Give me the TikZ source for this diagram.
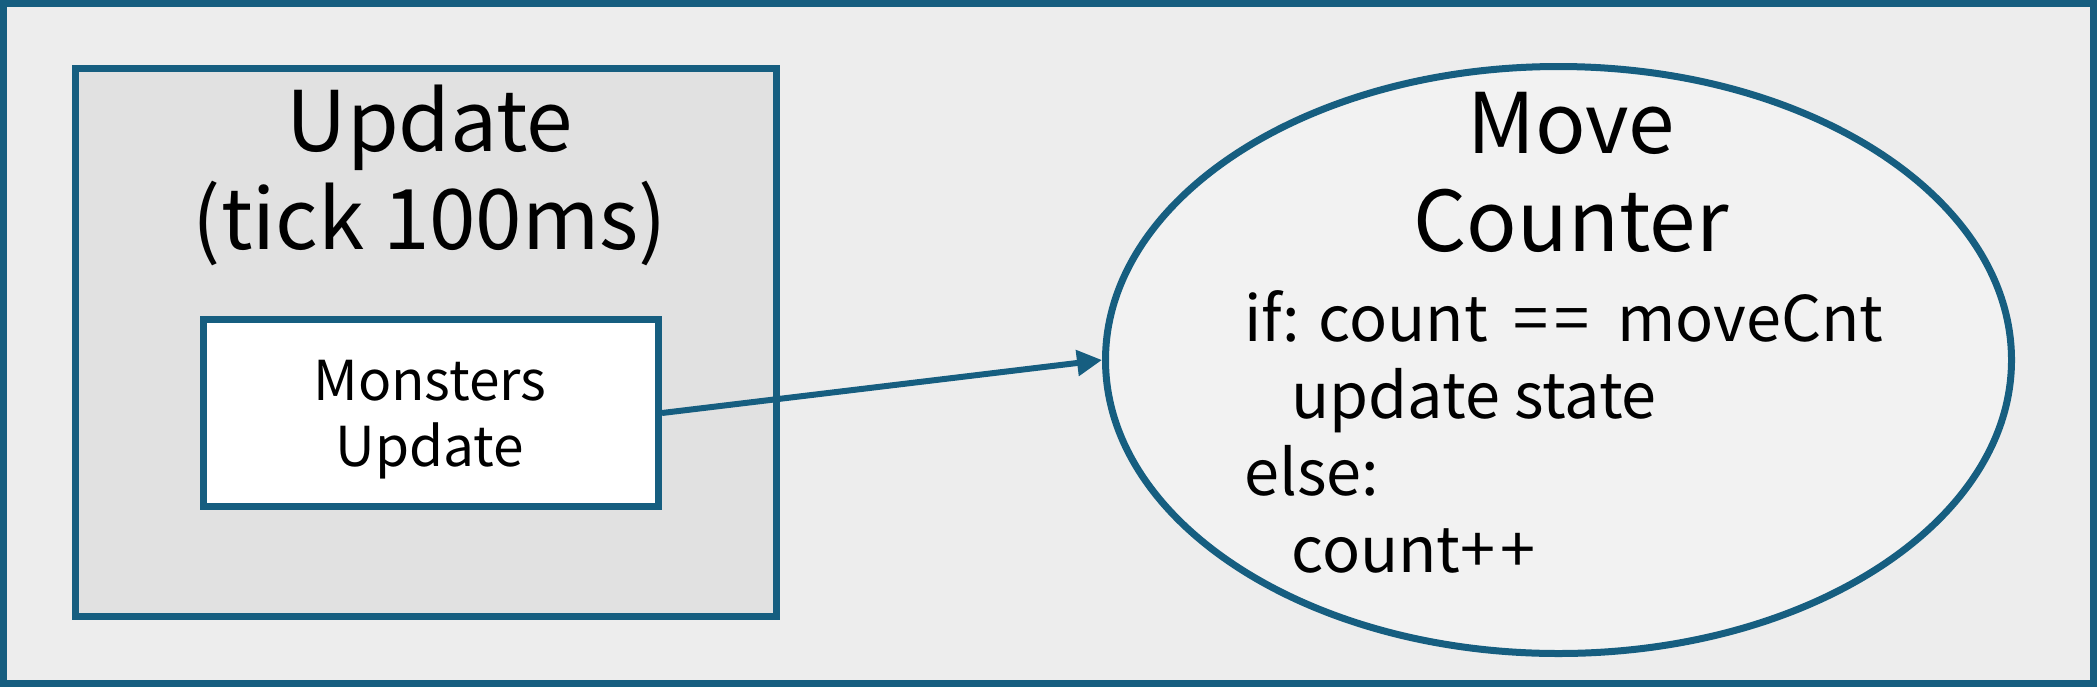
\documentclass[tikz,border=0pt]{standalone}
\usepackage{fontspec}
\setmainfont{Noto Sans CJK KR}
\usetikzlibrary{shapes.geometric,arrows.meta}
\definecolor{lineblue}{RGB}{22,94,128}
\definecolor{outerfill}{RGB}{237,237,237}
\definecolor{updfill}{RGB}{225,225,225}
\definecolor{ovalfill}{RGB}{242,242,242}
\newcommand\eqeq{\kern0.18em=\kern0.1em=\kern0.22em}
\newcommand\plpl{+\kern0.08em+}
\begin{document}
\begin{tikzpicture}[x=0.5pt, y=-0.5pt,
   frame/.style={draw=lineblue, line width=3.5pt},
   box/.style={frame, rectangle, inner sep=0pt, minimum width=227.5pt, minimum height=93.5pt, fill=white},
   oval/.style={frame, ellipse, inner sep=0pt, minimum width=453pt, minimum height=293.5pt, fill=ovalfill},
   bigtext/.style={font=\fontsize{41.8}{49}\selectfont, align=center, anchor=base, inner sep=0pt},
   smalltext/.style={font=\fontsize{27.5}{33}\selectfont, align=center, anchor=base, inner sep=0pt},
   codetext/.style={font=\fontsize{31.5}{38.5}\selectfont, align=left, anchor=base west, inner sep=0pt},
   link/.style={draw=lineblue, line width=3pt, -{Triangle[length=12.5pt, width=12.5pt]}},]
   \useasboundingbox (0,0) rectangle (2097,687);
   \draw[frame, fill=outerfill] (3.5,3.5) rectangle (2093.5,683.5);
   \draw[frame, fill=updfill] (75.5,68.5) rectangle (776.5,616.5);
   \node[bigtext] (updtitle) at (430,249) {Update\\(tick 100ms)};
   \node[box] (monsters) at (431,413) {};
   \node[smalltext] (monlabel) at (430,466) {Monsters\\Update};
   \node[oval] (counter) at (1558.5,360) {};
   \node[bigtext] (cnttitle) at (1571,251) {Move\\Counter};
   \node[codetext] (cntcode) at (1244,572) {if: count \eqeq{} moveCnt\\\hspace*{23.5pt}update state\\else:\\\hspace*{23.5pt}count\plpl};
   \draw[link] (monsters.east) -- (counter.west);
\end{tikzpicture}
\end{document}
